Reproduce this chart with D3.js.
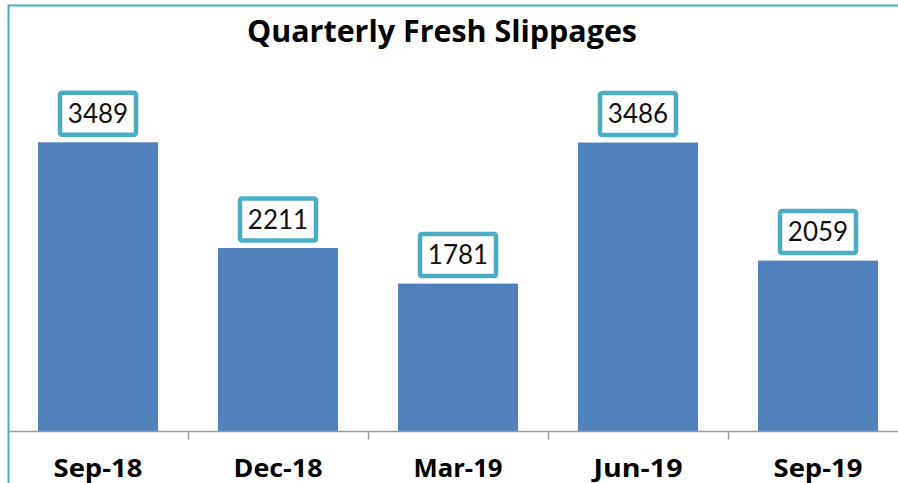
<!DOCTYPE html>
<html>
<head>
<meta charset="utf-8">
<script src="https://cdn.jsdelivr.net/npm/d3@7"></script>
<style>
    body { margin: 0; background: #fff; }
    svg { display: block; }
</style>
</head>
<body>
<div id="chart"></div>
<script>
    var quarters = ["Sep-18", "Dec-18", "Mar-19", "Jun-19", "Sep-19"];
    var slippages = [3489, 2211, 1781, 3486, 2059];
    var chartTitle = "Quarterly Fresh Slippages";

    var width = 898, height = 483;
    var margin = {top: 100, right: -10, bottom: 52, left: 8};

    var svg = d3.select("#chart")
        .append("svg")
        .attr("width", width)
        .attr("height", height);

    // outer chart frame (right and bottom edges fall outside the picture)
    svg.append("rect")
        .attr("x", 8.5)
        .attr("y", 5.5)
        .attr("width", 1000)
        .attr("height", 1000)
        .style("fill", "none")
        .style("stroke", "#4bacc6")
        .style("stroke-width", 2);

    var x = d3.scaleBand()
        .domain(quarters)
        .range([margin.left, width - margin.right])
        .paddingInner(1 / 3)
        .paddingOuter(1 / 6);

    var y = d3.scaleLinear()
        .domain([0, 4000])
        .range([height - margin.bottom, margin.top]);

    svg.append("text")
        .attr("x", 442)
        .attr("y", 42)
        .attr("text-anchor", "middle")
        .style("font-family", "'Open Sans', sans-serif")
        .style("font-weight", "bold")
        .style("font-size", "30px")
        .attr("textLength", 390)
        .attr("lengthAdjust", "spacingAndGlyphs")
        .text(chartTitle);

    svg.selectAll(".bar")
        .data(slippages)
        .enter()
        .append("rect")
        .attr("class", "bar")
        .attr("x", function (d, i) { return x(quarters[i]); })
        .attr("y", function (d) { return y(d); })
        .attr("width", x.bandwidth())
        .attr("height", function (d) { return y(0) - y(d); })
        .style("fill", "#4f81bd");

    // x axis: line plus ticks between the categories
    var gap = (x.step() - x.bandwidth()) / 2;
    var xAxis = svg.append("g")
        .attr("transform", "translate(0," + (y(0) + 0.5) + ")");
    xAxis.append("line")
        .attr("x1", margin.left)
        .attr("x2", width)
        .style("stroke", "#999")
        .style("stroke-width", 1.5);
    xAxis.selectAll(".tick")
        .data(quarters.slice(1))
        .enter()
        .append("line")
        .attr("x1", function (d) { return x(d) - gap + 0.5; })
        .attr("x2", function (d) { return x(d) - gap + 0.5; })
        .attr("y1", 0)
        .attr("y2", 8)
        .style("stroke", "#999")
        .style("stroke-width", 1.5);

    xAxis.selectAll(".cat")
        .data(quarters)
        .enter()
        .append("text")
        .attr("x", function (d) { return x(d) + x.bandwidth() / 2; })
        .attr("y", 45)
        .attr("text-anchor", "middle")
        .style("font-family", "'Open Sans', sans-serif")
        .style("font-weight", "bold")
        .style("font-size", "25px")
        .attr("textLength", 89)
        .attr("lengthAdjust", "spacingAndGlyphs")
        .text(function (d) { return d; });

    // value labels in outlined boxes
    var boxW = 76, boxH = 42;
    var labels = svg.selectAll(".label")
        .data(slippages)
        .enter()
        .append("g")
        .attr("transform", function (d, i) {
            return "translate(" + (x(quarters[i]) + x.bandwidth() / 2) + "," + (y(d) - 6 - boxH / 2 - 1.5) + ")";
        });
    labels.append("rect")
        .attr("x", -boxW / 2)
        .attr("y", -boxH / 2)
        .attr("width", boxW)
        .attr("height", boxH)
        .attr("rx", 2)
        .style("fill", "#fff")
        .style("stroke", "#4bacc6")
        .style("stroke-width", 4.5);
    labels.append("text")
        .attr("y", 9)
        .attr("text-anchor", "middle")
        .style("font-family", "Lato, sans-serif")
        .style("font-size", "26px")
        .style("fill", "#111")
        .text(function (d) { return d; });
</script>
</body>
</html>
